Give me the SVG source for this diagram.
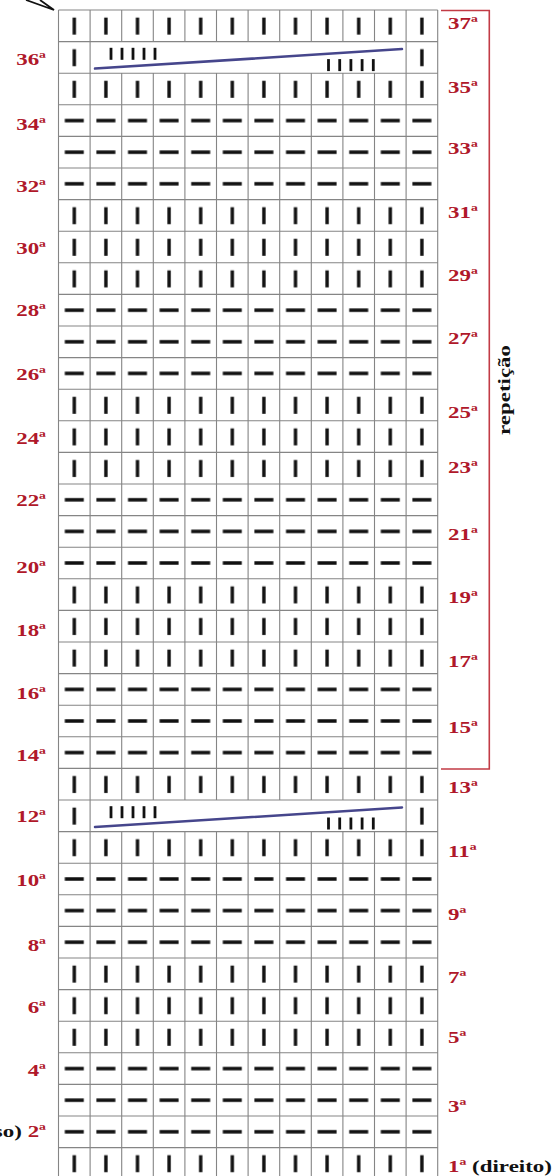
<svg xmlns="http://www.w3.org/2000/svg" width="559" height="1176" viewBox="0 0 559 1176">
<style>
.grid{fill:none;stroke:#858585;stroke-width:1.1}
.r{font-family:"Liberation Serif","Times New Roman",serif;font-weight:bold;font-size:17px;fill:#b0182a}
.k{font-family:"Liberation Serif","Times New Roman",serif;font-weight:bold;font-size:17px;fill:#111}
.sb{fill:#111}
.cab{stroke:#46468c;stroke-width:2.5;stroke-linecap:round;fill:none}
</style>
<defs>
<pattern id="pI" patternUnits="userSpaceOnUse" x="58.5" y="10" width="31.6" height="31.6">
<rect x="14.1" y="7.6" width="3.4" height="17" fill="#111"/>
</pattern>
<pattern id="pD" patternUnits="userSpaceOnUse" x="58.5" y="10" width="31.6" height="31.6">
<rect x="6.3" y="14.05" width="19" height="3.5" fill="#111"/>
</pattern>
</defs>
<rect width="559" height="1176" fill="#fff"/>
<path d="M26,0 L54,10 L40,0" fill="none" stroke="#111" stroke-width="1.8"/>
<g id="grid">
<path class="grid" d="M58.5,10H437.7M58.5,41.6H437.7M58.5,73.2H437.7M58.5,104.8H437.7M58.5,136.4H437.7M58.5,168H437.7M58.5,199.6H437.7M58.5,231.2H437.7M58.5,262.8H437.7M58.5,294.4H437.7M58.5,326H437.7M58.5,357.6H437.7M58.5,389.2H437.7M58.5,420.8H437.7M58.5,452.4H437.7M58.5,484H437.7M58.5,515.6H437.7M58.5,547.2H437.7M58.5,578.8H437.7M58.5,610.4H437.7M58.5,642H437.7M58.5,673.6H437.7M58.5,705.2H437.7M58.5,736.8H437.7M58.5,768.4H437.7M58.5,800H437.7M58.5,831.6H437.7M58.5,863.2H437.7M58.5,894.8H437.7M58.5,926.4H437.7M58.5,958H437.7M58.5,989.6H437.7M58.5,1021.2H437.7M58.5,1052.8H437.7M58.5,1084.4H437.7M58.5,1116H437.7M58.5,1147.6H437.7
M58.5,10V1176M90.1,10V1176M406.1,10V1176M437.7,10V1176
M121.7,10V41.6M121.7,73.2V800M121.7,831.6V1176
M153.3,10V41.6M153.3,73.2V800M153.3,831.6V1176
M184.9,10V41.6M184.9,73.2V800M184.9,831.6V1176
M216.5,10V41.6M216.5,73.2V800M216.5,831.6V1176
M248.1,10V41.6M248.1,73.2V800M248.1,831.6V1176
M279.7,10V41.6M279.7,73.2V800M279.7,831.6V1176
M311.3,10V41.6M311.3,73.2V800M311.3,831.6V1176
M342.9,10V41.6M342.9,73.2V800M342.9,831.6V1176
M374.5,10V41.6M374.5,73.2V800M374.5,831.6V1176"/>
</g>
<g id="stitches">
<rect x="58.5" y="10" width="379.2" height="31.6" fill="url(#pI)"/>
<rect x="58.5" y="41.6" width="31.6" height="31.6" fill="url(#pI)"/>
<rect x="406.1" y="41.6" width="31.6" height="31.6" fill="url(#pI)"/>
<rect x="58.5" y="73.2" width="379.2" height="31.6" fill="url(#pI)"/>
<rect x="58.5" y="104.8" width="379.2" height="94.8" fill="url(#pD)"/>
<rect x="58.5" y="199.6" width="379.2" height="94.8" fill="url(#pI)"/>
<rect x="58.5" y="294.4" width="379.2" height="94.8" fill="url(#pD)"/>
<rect x="58.5" y="389.2" width="379.2" height="94.8" fill="url(#pI)"/>
<rect x="58.5" y="484" width="379.2" height="94.8" fill="url(#pD)"/>
<rect x="58.5" y="578.8" width="379.2" height="94.8" fill="url(#pI)"/>
<rect x="58.5" y="673.6" width="379.2" height="94.8" fill="url(#pD)"/>
<rect x="58.5" y="768.4" width="379.2" height="31.6" fill="url(#pI)"/>
<rect x="58.5" y="800" width="31.6" height="31.6" fill="url(#pI)"/>
<rect x="406.1" y="800" width="31.6" height="31.6" fill="url(#pI)"/>
<rect x="58.5" y="831.6" width="379.2" height="31.6" fill="url(#pI)"/>
<rect x="58.5" y="863.2" width="379.2" height="94.8" fill="url(#pD)"/>
<rect x="58.5" y="958" width="379.2" height="94.8" fill="url(#pI)"/>
<rect x="58.5" y="1052.8" width="379.2" height="94.8" fill="url(#pD)"/>
<rect x="58.5" y="1147.6" width="379.2" height="31.6" fill="url(#pI)"/>
</g>
<g id="cable36">
<rect class="sb" x="109.6" y="47.8" width="2.8" height="12"/>
<rect class="sb" x="120.6" y="47.8" width="2.8" height="12"/>
<rect class="sb" x="131.6" y="47.8" width="2.8" height="12"/>
<rect class="sb" x="142.6" y="47.8" width="2.8" height="12"/>
<rect class="sb" x="153.6" y="47.8" width="2.8" height="12"/>
<rect class="sb" x="327.1" y="59.1" width="2.8" height="12"/>
<rect class="sb" x="338.3" y="59.1" width="2.8" height="12"/>
<rect class="sb" x="349.5" y="59.1" width="2.8" height="12"/>
<rect class="sb" x="360.7" y="59.1" width="2.8" height="12"/>
<rect class="sb" x="371.9" y="59.1" width="2.8" height="12"/>
<path class="cab" d="M95,68.6 L402,49.1"/>
</g>
<g id="cable12">
<rect class="sb" x="109.6" y="806.2" width="2.8" height="12"/>
<rect class="sb" x="120.6" y="806.2" width="2.8" height="12"/>
<rect class="sb" x="131.6" y="806.2" width="2.8" height="12"/>
<rect class="sb" x="142.6" y="806.2" width="2.8" height="12"/>
<rect class="sb" x="153.6" y="806.2" width="2.8" height="12"/>
<rect class="sb" x="327.1" y="817.5" width="2.8" height="12"/>
<rect class="sb" x="338.3" y="817.5" width="2.8" height="12"/>
<rect class="sb" x="349.5" y="817.5" width="2.8" height="12"/>
<rect class="sb" x="360.7" y="817.5" width="2.8" height="12"/>
<rect class="sb" x="371.9" y="817.5" width="2.8" height="12"/>
<path class="cab" d="M95,827 L402,807.5"/>
</g>
<g id="bracket">
<path d="M441,10.5H489.3V769H441" fill="none" stroke="#c23b45" stroke-width="1.6"/>
<text class="k" text-anchor="middle" transform="translate(510,390) rotate(-90) scale(1.35,1)">repetição</text>
</g>
<g id="labels-right">
<text class="r" transform="translate(448,29) scale(1.35,1)">37ª</text>
<text class="r" transform="translate(448,92.5) scale(1.35,1)">35ª</text>
<text class="r" transform="translate(448,153.7) scale(1.35,1)">33ª</text>
<text class="r" transform="translate(448,217.7) scale(1.35,1)">31ª</text>
<text class="r" transform="translate(448,281) scale(1.35,1)">29ª</text>
<text class="r" transform="translate(448,343.7) scale(1.35,1)">27ª</text>
<text class="r" transform="translate(448,418) scale(1.35,1)">25ª</text>
<text class="r" transform="translate(448,473) scale(1.35,1)">23ª</text>
<text class="r" transform="translate(448,540) scale(1.35,1)">21ª</text>
<text class="r" transform="translate(448,603) scale(1.35,1)">19ª</text>
<text class="r" transform="translate(448,667) scale(1.35,1)">17ª</text>
<text class="r" transform="translate(448,733) scale(1.35,1)">15ª</text>
<text class="r" transform="translate(448,793) scale(1.35,1)">13ª</text>
<text class="r" transform="translate(448,857) scale(1.35,1)">11ª</text>
<text class="r" transform="translate(448,920) scale(1.35,1)">9ª</text>
<text class="r" transform="translate(448,983) scale(1.35,1)">7ª</text>
<text class="r" transform="translate(448,1043) scale(1.35,1)">5ª</text>
<text class="r" transform="translate(448,1111.7) scale(1.35,1)">3ª</text>
<text class="r" transform="translate(448,1172) scale(1.35,1)">1ª <tspan class="k">(direito)</tspan></text>
</g>
<g id="labels-left">
<text class="r" text-anchor="end" transform="translate(46,65) scale(1.35,1)">36ª</text>
<text class="r" text-anchor="end" transform="translate(46,130) scale(1.35,1)">34ª</text>
<text class="r" text-anchor="end" transform="translate(46,192) scale(1.35,1)">32ª</text>
<text class="r" text-anchor="end" transform="translate(46,254) scale(1.35,1)">30ª</text>
<text class="r" text-anchor="end" transform="translate(46,316) scale(1.35,1)">28ª</text>
<text class="r" text-anchor="end" transform="translate(46,380) scale(1.35,1)">26ª</text>
<text class="r" text-anchor="end" transform="translate(46,444) scale(1.35,1)">24ª</text>
<text class="r" text-anchor="end" transform="translate(46,506) scale(1.35,1)">22ª</text>
<text class="r" text-anchor="end" transform="translate(46,573) scale(1.35,1)">20ª</text>
<text class="r" text-anchor="end" transform="translate(46,636) scale(1.35,1)">18ª</text>
<text class="r" text-anchor="end" transform="translate(46,699) scale(1.35,1)">16ª</text>
<text class="r" text-anchor="end" transform="translate(46,761) scale(1.35,1)">14ª</text>
<text class="r" text-anchor="end" transform="translate(46,822) scale(1.35,1)">12ª</text>
<text class="r" text-anchor="end" transform="translate(46,886) scale(1.35,1)">10ª</text>
<text class="r" text-anchor="end" transform="translate(46,951) scale(1.35,1)">8ª</text>
<text class="r" text-anchor="end" transform="translate(46,1013) scale(1.35,1)">6ª</text>
<text class="r" text-anchor="end" transform="translate(46,1076) scale(1.35,1)">4ª</text>
<text class="r" text-anchor="end" transform="translate(46,1137) scale(1.35,1)"><tspan class="k">(avesso)</tspan> 2ª</text>
</g>
</svg>
